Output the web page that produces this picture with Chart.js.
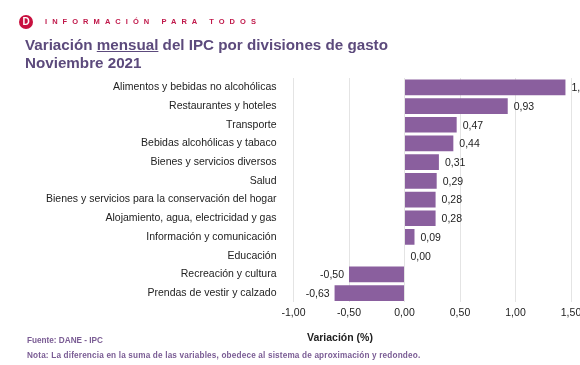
<!DOCTYPE html>
<html>
<head>
<meta charset="utf-8">
<script src="https://cdn.jsdelivr.net/npm/chart.js@4"></script>
<style>
  html, body { margin: 0; padding: 0; background: #fff; overflow: hidden; width: 580px; height: 365px; }
  body { position: relative; font-family: "Liberation Sans", Arial, sans-serif; }
  #performance { position: absolute; left: 0; top: 0; }
  .txt { position: absolute; white-space: nowrap; }
  #logo { position: absolute; left: 19px; top: 15px; width: 14px; height: 14px; border-radius: 50%; background: #c8103f; color: #fff;
    font: bold 10px/14px "Liberation Sans"; text-align: center; }
  #brand { left: 45px; top: 17px; font-size: 7.5px; font-weight: bold; letter-spacing: 5.05px; color: #c0184a; }
  #title { left: 25px; top: 36px; font-size: 15.2px; line-height: 18px; font-weight: bold; color: #5c4a7c; }
  #axisTitle { left: 307px; top: 331px; font-size: 10.5px; font-weight: bold; color: #222; }
  #source { left: 27px; top: 336px; font-size: 8.2px; font-weight: bold; color: #7a5c94; }
  #note { left: 27px; top: 351px; font-size: 8.2px; font-weight: bold; color: #7a5c94; letter-spacing: 0.17px; }
</style>
</head>
<body>
<canvas id="performance" width="600" height="365"></canvas>
<div id="logo">D</div>
<div class="txt" id="brand">INFORMACIÓN PARA TODOS</div>
<div class="txt" id="title">Variación <u>mensual</u> del IPC por divisiones de gasto<br>Noviembre 2021</div>
<div class="txt" id="axisTitle">Variación (%)</div>
<div class="txt" id="source">Fuente: DANE - IPC</div>
<div class="txt" id="note">Nota: La diferencia en la suma de las variables, obedece al sistema de aproximación y redondeo.</div>
<script>
const categories = [
  "Alimentos y bebidas no alcohólicas",
  "Restaurantes y hoteles",
  "Transporte",
  "Bebidas alcohólicas y tabaco",
  "Bienes y servicios diversos",
  "Salud",
  "Bienes y servicios para la conservación del hogar",
  "Alojamiento, agua, electricidad y gas",
  "Información y comunicación",
  "Educación",
  "Recreación y cultura",
  "Prendas de vestir y calzado",
];
const variation = [1.45, 0.93, 0.47, 0.44, 0.31, 0.29, 0.28, 0.28, 0.09, 0.0, -0.5, -0.63];

// Values use a decimal comma in the source chart
function formatComma(value) {
  return value.toFixed(2).replace(".", ",");
}

// Write the value next to the end of each bar
const barValueLabels = {
  id: "barValueLabels",
  afterDatasetsDraw(chart) {
    const ctx = chart.ctx;
    const bars = chart.getDatasetMeta(0).data;
    ctx.save();
    ctx.font = '10.5px "Liberation Sans"';
    ctx.fillStyle = "#222";
    ctx.textBaseline = "middle";
    bars.forEach((bar, i) => {
      const value = variation[i];
      ctx.textAlign = value < 0 ? "right" : "left";
      const x = value < 0 ? bar.x - 5 : bar.x + 6;
      ctx.fillText(formatComma(value), x, bar.y + 1);
    });
    ctx.restore();
  },
};

new Chart(document.getElementById("performance"), {
  type: "bar",
  data: {
    labels: categories,
    datasets: [
      {
        data: variation,
        backgroundColor: "#8a5f9e",
        barPercentage: 0.84,
        categoryPercentage: 1,
      },
    ],
  },
  plugins: [barValueLabels],
  options: {
    indexAxis: "y",
    responsive: false,
    animation: false,
    layout: { padding: { top: 78, right: 29, bottom: 42, left: 0 } },
    plugins: {
      legend: { display: false },
      tooltip: { enabled: false },
    },
    scales: {
      x: {
        min: -1,
        max: 1.5,
        ticks: {
          stepSize: 0.5,
          maxRotation: 0,
          padding: 4,
          color: "#222",
          font: { family: "Liberation Sans", size: 10.5 },
          callback: (value) => formatComma(value),
        },
        grid: { color: "#e4e4e4", drawTicks: false },
        border: { display: false },
      },
      y: {
        afterFit: (axis) => {
          axis.width = 293.5;
        },
        ticks: {
          padding: 9,
          autoSkip: false,
          color: "#222",
          font: { family: "Liberation Sans", size: 10.5 },
        },
        grid: { display: false },
        border: { display: false },
      },
    },
  },
});
</script>
</body>
</html>
